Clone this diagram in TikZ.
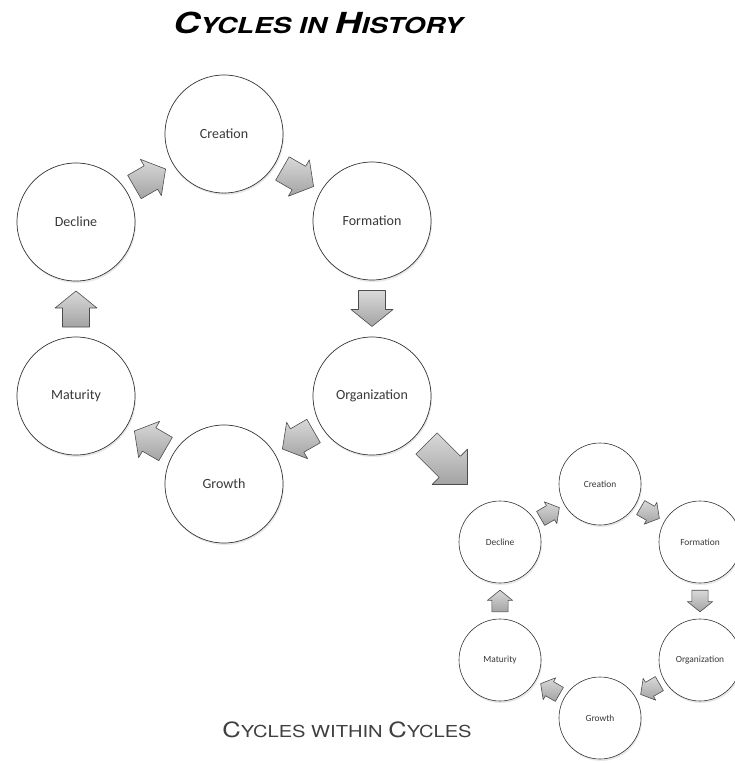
\documentclass[tikz,border=0pt]{standalone}
\usepackage{fontspec}
\setmainfont{Carlito}
\newfontfamily\titlefont{TeX Gyre Heros}[FakeStretch=1.27]
\newfontfamily\subfont{TeX Gyre Heros}[FakeStretch=1.22]
\usetikzlibrary{shadows,calc}

\begin{document}
\begin{tikzpicture}[x=1pt, y=-1pt,
            stage/.style={circle, draw=black!80, line width=.7pt, fill=white,
                minimum size=118pt, inner sep=0pt, text=black!78,
                font=\fontsize{14}{16}\selectfont,
                drop shadow={opacity=.18, shadow xshift=1pt, shadow yshift=-2pt}},
            substage/.style={stage, minimum size=82pt, line width=.6pt,
                font=\fontsize{9.4}{11}\selectfont},
            flowfill/.style={draw=black!70, line width=.6pt, line join=round,
                top color=gray!30, bottom color=gray!72},
            flow/.pic={\path[flowfill] (-18,-13.5) -- (1,-13.5) -- (1,-21)
                -- (18,0) -- (1,21) -- (1,13.5) -- (-18,13.5) -- cycle;},
            jump/.pic={\path[flowfill] (-29,-15) -- (4,-15) -- (4,-25)
                -- (29,0) -- (4,25) -- (4,15) -- (-29,15) -- cycle;}]
    \useasboundingbox (0,0) rectangle (734,763);

    % titles
    \node (title) at (318,23) {\titlefont\bfseries\itshape
        {\fontsize{29}{29}\selectfont C}\fontsize{22}{22}\selectfont YCLES IN
        {\fontsize{29}{29}\selectfont H}ISTORY};
    \node[text=black!75] (subtitle) at (347,730) {\subfont
        {\fontsize{21}{21}\selectfont C}\fontsize{16.5}{16.5}\selectfont YCLES WITHIN
        {\fontsize{21}{21}\selectfont C}YCLES};

    % the big cycle
    \node[stage] (cre) at (224,134) {Creation};
    \node[stage] (for) at (372,221) {Formation};
    \node[stage] (org) at (372,396) {Organization};
    \node[stage] (gro) at (224,484) {Growth};
    \node[stage] (mat) at (76,396) {Maturity};
    \node[stage] (dec) at (76,222) {Decline};

    % the small cycle
    \node[substage] (scre) at (600,484) {Creation};
    \node[substage] (sfor) at (700,542) {Formation};
    \node[substage] (sorg) at (700,660) {Organization};
    \node[substage] (sgro) at (600,718) {Growth};
    \node[substage] (smat) at (500,660) {Maturity};
    \node[substage] (sdec) at (500,542) {Decline};

    \foreach \a/\b/\r in {dec/cre/30, cre/for/-30, for/org/-90,
                          org/gro/210, gro/mat/150, mat/dec/90}
    {
        \pic[rotate=\r] at ($(\a)!.5!(\b)$) {flow};
        \pic[rotate=\r, scale=.6, line width=.5pt] at ($(s\a)!.5!(s\b)$) {flow};
    }

    % from one cycle into the other
    \pic[rotate=-45] at (447,464) {jump};
\end{tikzpicture}
\end{document}
